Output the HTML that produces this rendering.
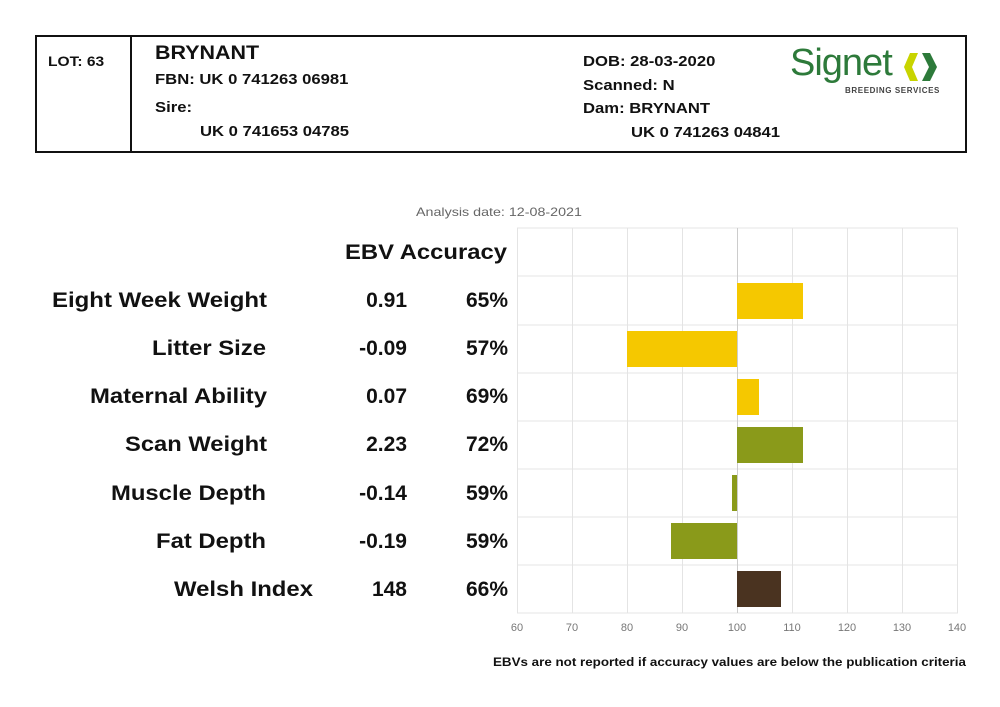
<!DOCTYPE html>
<html><head><meta charset="utf-8"><style>
body{margin:0;width:1000px;height:707px;background:#fff;font-family:"Liberation Sans",Arial,sans-serif;position:relative;overflow:hidden}
.a{position:absolute;white-space:nowrap}
.h{font-weight:bold;font-size:15px;color:#111;transform:scaleX(1.11);transform-origin:0 0}
</style></head><body>
<div class="a" style="left:35px;top:35px;width:928px;height:114px;border:2px solid #111"></div>
<div class="a" style="left:130px;top:35px;width:2px;height:116px;background:#111"></div>
<div class="a h" style="left:48px;top:53px;font-size:14px">LOT: 63</div>
<div class="a h" style="left:155px;top:43px;font-size:19px;transform:scaleX(1.13)">BRYNANT</div>
<div class="a h" style="left:155px;top:71px">FBN: UK 0 741263 06981</div>
<div class="a h" style="left:155px;top:99px">Sire:</div>
<div class="a h" style="left:200px;top:123px">UK 0 741653 04785</div>
<div class="a h" style="left:583px;top:53px">DOB: 28-03-2020</div>
<div class="a h" style="left:583px;top:77px">Scanned: N</div>
<div class="a h" style="left:583px;top:100px">Dam: BRYNANT</div>
<div class="a h" style="left:631px;top:124px">UK 0 741263 04841</div>
<div class="a" style="left:790px;top:42px;font-size:38px;color:#2d7a3a;letter-spacing:-1px">Signet</div>
<svg class="a" style="left:900px;top:50px" width="40" height="34"><polygon points="10,3 18,3 12,17 18,31 10,31 4,17" fill="#c8d400"/><polygon points="22,3 30,3 37,17 30,31 22,31 29,17" fill="#2d7a3a"/></svg>
<div class="a" style="left:845px;top:86px;font-size:8px;font-weight:bold;color:#444;letter-spacing:0.6px">BREEDING SERVICES</div>

<div class="a" style="left:416px;top:205px;font-size:12px;color:#666;transform:scaleX(1.19);transform-origin:0 0">Analysis date: 12-08-2021</div>

<svg class="a" style="left:0;top:0" width="1000" height="707">
<g stroke="#e4e4e4" stroke-width="1">
<line x1="517" y1="228" x2="958" y2="228"/><line x1="517" y1="276" x2="958" y2="276"/><line x1="517" y1="325" x2="958" y2="325"/><line x1="517" y1="373" x2="958" y2="373"/><line x1="517" y1="421" x2="958" y2="421"/><line x1="517" y1="469" x2="958" y2="469"/><line x1="517" y1="517" x2="958" y2="517"/><line x1="517" y1="565" x2="958" y2="565"/><line x1="517" y1="613" x2="958" y2="613"/>
<line x1="517.5" y1="228" x2="517.5" y2="613"/><line x1="572.5" y1="228" x2="572.5" y2="613"/><line x1="627.5" y1="228" x2="627.5" y2="613"/><line x1="682.5" y1="228" x2="682.5" y2="613"/><line x1="792.5" y1="228" x2="792.5" y2="613"/><line x1="847.5" y1="228" x2="847.5" y2="613"/><line x1="902.5" y1="228" x2="902.5" y2="613"/><line x1="957.5" y1="228" x2="957.5" y2="613"/>
</g>
<line x1="737.5" y1="228" x2="737.5" y2="613" stroke="#ccc"/>
<rect x="737" y="283" width="66" height="36" fill="#f5c800"/>
<rect x="627" y="331" width="110" height="36" fill="#f5c800"/>
<rect x="737" y="379" width="22" height="36" fill="#f5c800"/>
<rect x="737" y="427" width="66" height="36" fill="#8a9a1a"/>
<rect x="732" y="475" width="5" height="36" fill="#8a9a1a"/>
<rect x="671" y="523" width="66" height="36" fill="#8a9a1a"/>
<rect x="737" y="571" width="44" height="36" fill="#4a3320"/>
<g font-size="11" fill="#777" text-anchor="middle" font-family="Liberation Sans,sans-serif">
<text x="517" y="631">60</text><text x="572" y="631">70</text><text x="627" y="631">80</text><text x="682" y="631">90</text><text x="737" y="631">100</text><text x="792" y="631">110</text><text x="847" y="631">120</text><text x="902" y="631">130</text><text x="957" y="631">140</text>
</g>
<g font-size="21" font-weight="bold" fill="#111" font-family="Liberation Sans,sans-serif">
<g lengthAdjust="spacingAndGlyphs">
<text x="345" y="259" textLength="162" lengthAdjust="spacingAndGlyphs">EBV Accuracy</text>
<text x="52" y="307" textLength="215" lengthAdjust="spacingAndGlyphs">Eight Week Weight</text>
<text x="152" y="355" textLength="114" lengthAdjust="spacingAndGlyphs">Litter Size</text>
<text x="90" y="403" textLength="177" lengthAdjust="spacingAndGlyphs">Maternal Ability</text>
<text x="125" y="451" textLength="142" lengthAdjust="spacingAndGlyphs">Scan Weight</text>
<text x="111" y="500" textLength="155" lengthAdjust="spacingAndGlyphs">Muscle Depth</text>
<text x="156" y="548" textLength="110" lengthAdjust="spacingAndGlyphs">Fat Depth</text>
<text x="174" y="596" textLength="139" lengthAdjust="spacingAndGlyphs">Welsh Index</text>
</g>
<g text-anchor="end">
<text x="407" y="307">0.91</text><text x="407" y="355">-0.09</text><text x="407" y="403">0.07</text><text x="407" y="451">2.23</text><text x="407" y="500">-0.14</text><text x="407" y="548">-0.19</text><text x="407" y="596">148</text>
<text x="508" y="307">65%</text><text x="508" y="355">57%</text><text x="508" y="403">69%</text><text x="508" y="451">72%</text><text x="508" y="500">59%</text><text x="508" y="548">59%</text><text x="508" y="596">66%</text>
</g></g>
</svg>
<div class="a" style="left:493px;top:655px;font-size:12px;font-weight:bold;color:#111;transform:scaleX(1.115);transform-origin:0 0">EBVs are not reported if accuracy values are below the publication criteria</div>
</body></html>
